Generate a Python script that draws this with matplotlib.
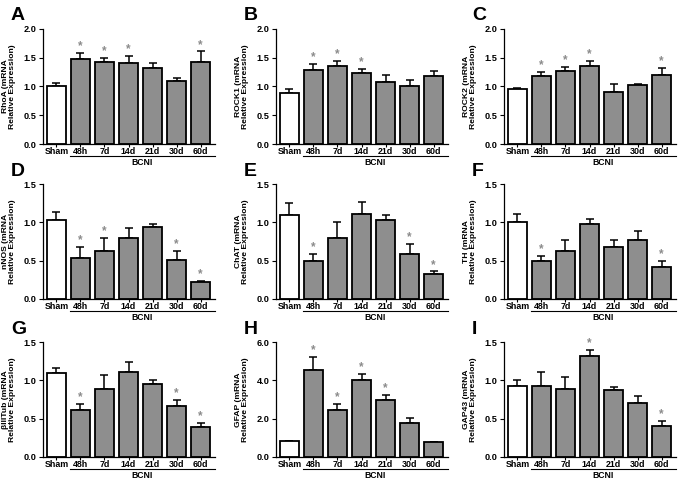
import matplotlib.pyplot as plt
import numpy as np

plt.rcParams['font.family'] = ['Liberation Sans', 'DejaVu Sans']
plt.rcParams['font.weight'] = 'bold'

groups = ['Sham', '48h', '7d', '14d', '21d', '30d', '60d']

genes = ['RhoA', 'ROCK1', 'ROCK2', 'nNOS', 'ChAT', 'TH', 'βIIITub', 'GFAP', 'GAP43']
letters = ['A', 'B', 'C', 'D', 'E', 'F', 'G', 'H', 'I']

rhoa = [1.01, 1.48, 1.43, 1.41, 1.32, 1.10, 1.42]
rhoa_err = [0.05, 0.10, 0.06, 0.12, 0.09, 0.04, 0.19]
rock1 = [0.89, 1.29, 1.35, 1.23, 1.07, 1.01, 1.19]
rock1_err = [0.06, 0.10, 0.10, 0.07, 0.13, 0.10, 0.08]
rock2 = [0.95, 1.19, 1.27, 1.35, 0.91, 1.02, 1.20]
rock2_err = [0.03, 0.07, 0.07, 0.10, 0.14, 0.02, 0.13]
nnos = [1.03, 0.54, 0.63, 0.80, 0.94, 0.51, 0.22]
nnos_err = [0.10, 0.14, 0.17, 0.12, 0.04, 0.12, 0.02]
chat = [1.10, 0.49, 0.79, 1.11, 1.03, 0.59, 0.32]
chat_err = [0.15, 0.10, 0.21, 0.16, 0.07, 0.13, 0.04]
th = [1.00, 0.49, 0.63, 0.98, 0.68, 0.77, 0.42]
th_err = [0.11, 0.07, 0.14, 0.06, 0.09, 0.12, 0.08]
btub = [1.09, 0.61, 0.89, 1.11, 0.95, 0.66, 0.39]
btub_err = [0.07, 0.08, 0.18, 0.13, 0.05, 0.09, 0.05]
gfap = [0.82, 4.53, 2.45, 4.01, 2.97, 1.78, 0.76]
gfap_err = [0.03, 0.71, 0.30, 0.34, 0.26, 0.23, 0.04]
gap43 = [0.93, 0.93, 0.89, 1.32, 0.88, 0.70, 0.41]
gap43_err = [0.08, 0.18, 0.15, 0.08, 0.03, 0.10, 0.06]

values = [rhoa, rock1, rock2, nnos, chat, th, btub, gfap, gap43]
errors = [rhoa_err, rock1_err, rock2_err, nnos_err, chat_err, th_err, btub_err, gfap_err, gap43_err]
stars = [
    ['48h', '7d', '14d', '60d'],
    ['48h', '7d', '14d'],
    ['48h', '7d', '14d', '60d'],
    ['48h', '7d', '30d', '60d'],
    ['48h', '30d', '60d'],
    ['48h', '60d'],
    ['48h', '30d', '60d'],
    ['48h', '7d', '14d', '21d'],
    ['14d', '60d'],
]
ymax = [2.0, 2.0, 2.0, 1.5, 1.5, 1.5, 1.5, 6.0, 1.5]
ystep = [0.5, 0.5, 0.5, 0.5, 0.5, 0.5, 0.5, 2.0, 0.5]

W, H = 685, 488
fig = plt.figure(figsize=(6.85, 4.88), dpi=100)

col_left = [43, 276, 504]
row_bottom = [144, 299, 457]
ax_w, ax_h = 172, 115

x = np.arange(len(groups))
for i in range(9):
    r, c = divmod(i, 3)
    ax = fig.add_axes([col_left[c] / W, 1 - row_bottom[r] / H, ax_w / W, ax_h / H])
    colors = ['white'] + ['#8e8e8e'] * 6
    ax.bar(x, values[i], width=0.76, color=colors, edgecolor='black', linewidth=1.3, zorder=2)
    lower = np.zeros(len(groups))
    ax.errorbar(x, values[i], yerr=[lower, errors[i]], fmt='none', ecolor='black',
                elinewidth=1.1, capsize=3, capthick=1.1, zorder=1)
    for g in stars[i]:
        k = groups.index(g)
        ax.annotate('*', (k, values[i][k] + errors[i][k]), xytext=(0, 0.5),
                    textcoords='offset points', ha='center', va='bottom',
                    fontsize=8.5, color='#8a8a8a', fontweight='bold')
    ax.set_xlim(-0.56, 6.6)
    ax.set_ylim(0, ymax[i])
    ticks = np.arange(0, ymax[i] + 0.01, ystep[i])
    ax.set_yticks(ticks)
    ax.set_yticklabels(['%.1f' % v for v in ticks], fontsize=6.6, fontweight='bold')
    ax.set_xticks(x)
    ax.set_xticklabels(groups, fontsize=6.4, fontweight='bold')
    ax.tick_params(axis='x', length=2, width=0.8, pad=0.5)
    ax.tick_params(axis='y', length=3, width=0.8, pad=1.5)
    for s in ['top', 'right']:
        ax.spines[s].set_visible(False)
    for s in ['left', 'bottom']:
        ax.spines[s].set_linewidth(0.9)
    ax.set_ylabel(genes[i] + ' (mRNA\nRelative Expression)', fontsize=6.1,
                  fontweight='bold', linespacing=1.1)
    ax.yaxis.set_label_coords(-0.155, 0.5)
    tr = ax.get_xaxis_transform()
    ax.plot([0.58, 6.6], [-0.108, -0.108], color='black', lw=0.8, transform=tr, clip_on=False)
    ax.text(3.55, -0.125, 'BCNI', transform=tr, ha='center', va='top', fontsize=6.2,
            fontweight='bold')
    fig.text((col_left[c] - 32) / W, 1 - (row_bottom[r] - 128) / H, letters[i],
             fontsize=14, fontweight='bold', ha='left', va='center')

fig.savefig('out.png', dpi=100)
